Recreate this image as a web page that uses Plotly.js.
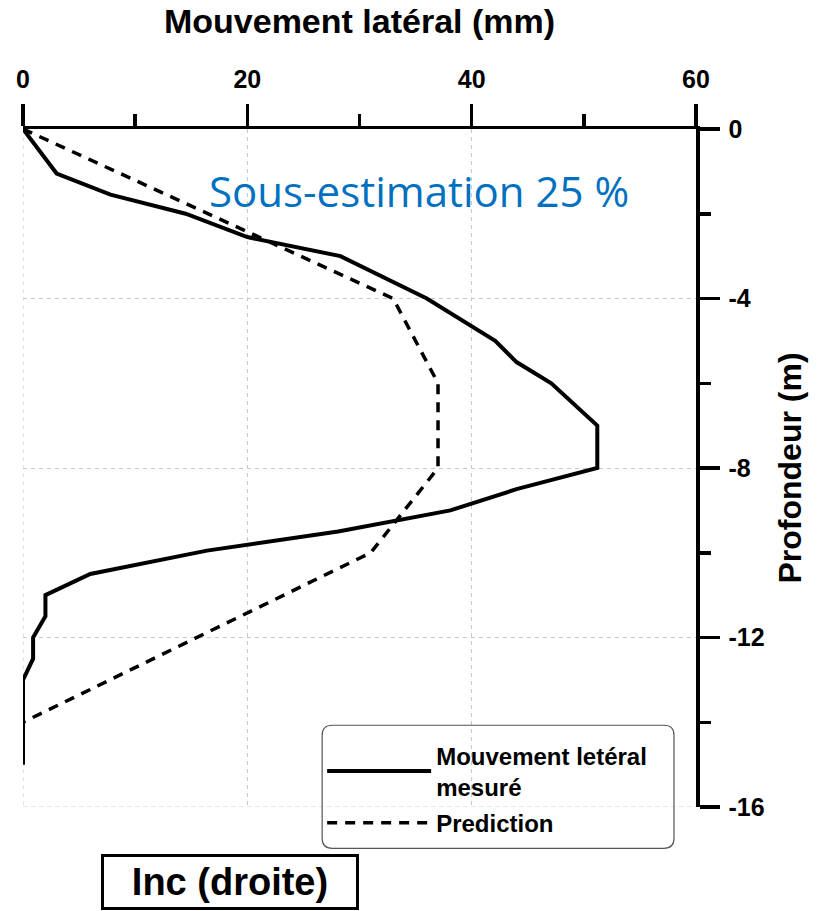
<!DOCTYPE html>
<html><head><meta charset="utf-8">
<script src="https://cdn.plot.ly/plotly-3.0.1.min.js"></script>
<style>html,body{margin:0;padding:0;background:#fff}#chart{width:821px;height:911px}</style>
</head><body><div id="chart"></div>
<script>
// Measured lateral movement (mm) vs depth (m)
const measuredX = [0, 3.0, 7.8, 14.5, 20.0, 28.3, 36.0, 42.1, 44.0, 47.1, 51.2, 51.2, 44.0, 38.1, 28.1, 16.4, 6.0, 2.0, 2.0, 0.9, 0.9, 0, 0];
const measuredY = [0, -1.05, -1.55, -2.0, -2.55, -3.0, -4.0, -5.0, -5.5, -6.0, -7.0, -8.0, -8.5, -9.0, -9.5, -9.95, -10.5, -11.0, -11.5, -12.0, -12.5, -13.0, -15.0];
// Prediction
const predX = [0, 20.0, 33.0, 37.0, 37.0, 31.0, 0];
const predY = [0, -2.42, -4.0, -6.0, -8.0, -10.0, -14.0];
const xTicks = [0, 20, 40, 60];
const yTicks = [0, -4, -8, -12, -16];
const seriesNames = ['Mouvement letéral<br>mesuré', 'Prediction'];

const font = 'Liberation Sans, Arial, sans-serif';
const traces = [
  {x: measuredX, y: measuredY, mode: 'lines', name: seriesNames[0], legendgroup: 'a', line: {color: '#000', width: 4}},
  {x: predX, y: predY, mode: 'lines', name: seriesNames[1], legendgroup: 'b', line: {color: '#000', width: 3.5, dash: '10px,8px'}}
];
const gridStyle = {color: '#c8c8c8', width: 1, dash: '4px,4px'};
const layout = {
  width: 821, height: 911,
  margin: {l: 22.7, r: 125, t: 129, b: 104.3},
  paper_bgcolor: '#fff', plot_bgcolor: '#fff',
  font: {family: font, color: '#000'},
  showlegend: true,
  legend: {x: 0.4445, y: 0.1088, xanchor: 'left', yanchor: 'top', bgcolor: 'rgba(0,0,0,0)',
    font: {family: font, size: 24, weight: 'bold', color: '#000'}, itemwidth: 104, tracegroupgap: 2},
  xaxis: {
    side: 'top', range: [0, 60], tickvals: xTicks, ticktext: xTicks.map(String),
    showline: true, linecolor: '#000', linewidth: 3.5,
    ticks: 'outside', ticklen: 22, tickwidth: 3.5, tickcolor: '#000', ticklabelstandoff: 6,
    minor: {dtick: 10, tick0: 0, ticks: 'outside', ticklen: 12, tickwidth: 3.5, tickcolor: '#000', showgrid: false},
    showgrid: true, gridcolor: '#c8c8c8', gridwidth: 1, griddash: '4px,4px',
    zeroline: false, fixedrange: true,
    tickfont: {family: font, size: 25, weight: 'bold'},
    title: {text: 'Mouvement latéral (mm)', font: {family: font, size: 34, weight: 'bold'}, standoff: 21}
  },
  yaxis: {
    side: 'right', range: [-16, 0], tickvals: yTicks, ticktext: yTicks.map(String),
    showline: true, linecolor: '#000', linewidth: 3.5,
    ticks: 'outside', ticklen: 20, tickwidth: 3.5, tickcolor: '#000', ticklabelstandoff: 4,
    minor: {dtick: 2, tick0: 0, ticks: 'outside', ticklen: 11, tickwidth: 3.5, tickcolor: '#000', showgrid: false},
    showgrid: true, gridcolor: '#c8c8c8', gridwidth: 1, griddash: '4px,4px',
    zeroline: false, fixedrange: true,
    tickfont: {family: font, size: 25, weight: 'bold'},
    title: {text: 'Profondeur (m)', font: {family: font, size: 32, weight: 'bold'}, standoff: 16}
  },
  shapes: [
    {type: 'line', xref: 'x', yref: 'y', x0: xTicks[0], x1: xTicks[0], y0: yTicks[0], y1: yTicks[4], layer: 'below', line: gridStyle},
    {type: 'line', xref: 'x', yref: 'y', x0: xTicks[0], x1: xTicks[3], y0: yTicks[4], y1: yTicks[4], layer: 'below', line: gridStyle},
    {type: 'path', xref: 'paper', yref: 'paper', layer: 'above',
     path: 'M 0.4594 0.1206 L 0.9524 0.1206 Q 0.9673 0.1206 0.9673 0.1058 L 0.9673 -0.0461 Q 0.9673 -0.0609 0.9524 -0.0609 L 0.4594 -0.0609 Q 0.4445 -0.0609 0.4445 -0.0461 L 0.4445 0.1058 Q 0.4445 0.1206 0.4594 0.1206 Z',
     line: {color: '#555', width: 1.2}, fillcolor: 'rgba(0,0,0,0)'}
  ],
  annotations: [
    {x: 35.3, y: -1.45, xref: 'x', yref: 'y', text: 'Sous-estimation 25 %', showarrow: false,
     font: {family: 'Open Sans, sans-serif', size: 42, color: '#0070C0'}},
    {x: 0.3079, y: -0.1104, xref: 'paper', yref: 'paper', xanchor: 'center', yanchor: 'middle',
     text: 'Inc (droite)', showarrow: false, width: 248, height: 46,
     font: {family: font, size: 38, weight: 'bold'}, bordercolor: '#000', borderwidth: 3, borderpad: 2, bgcolor: '#fff'}
  ]
};
Plotly.newPlot('chart', traces, layout, {staticPlot: true, displayModeBar: false});
</script></body></html>
